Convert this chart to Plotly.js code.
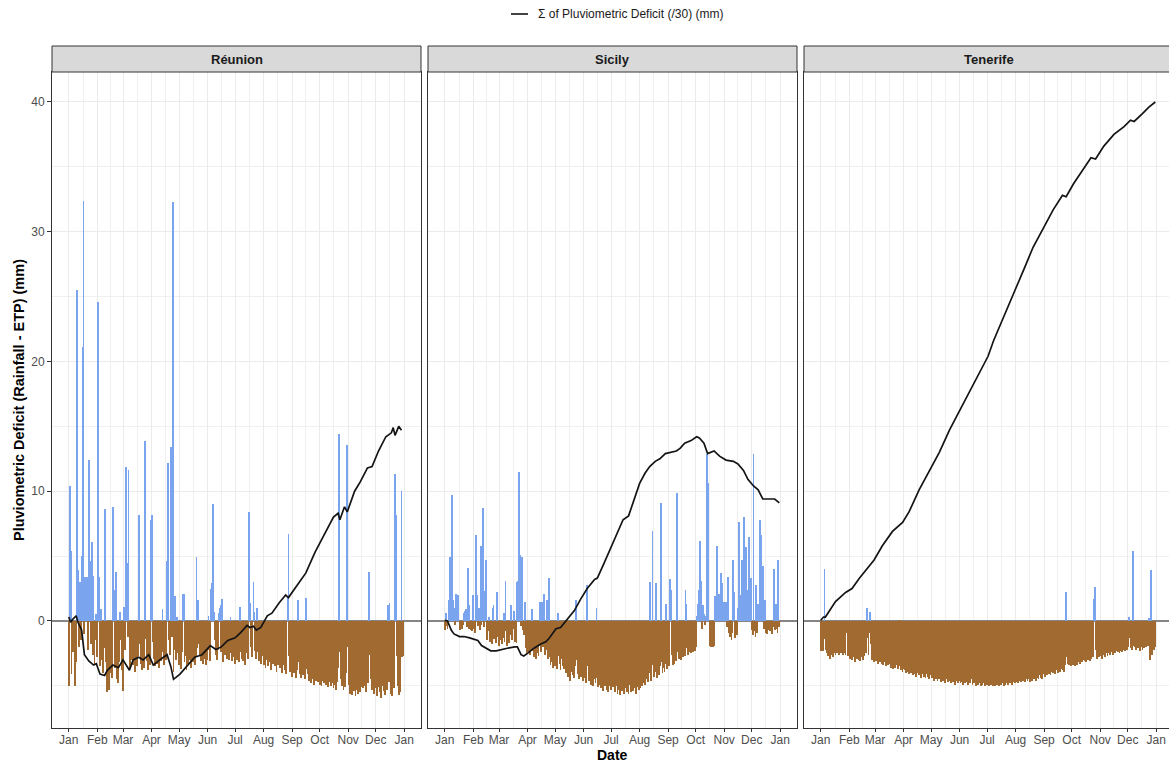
<!DOCTYPE html>
<html>
<head>
<meta charset="utf-8">
<script src="https://cdn.plot.ly/plotly-3.0.1.min.js"></script>
<style>
  html, body { margin: 0; padding: 0; overflow: hidden; background: #ffffff; }
</style>
</head>
<body>
<div id="chart" style="width:1173px;height:762px"></div>
<script>
// Sites shown as facets, left to right
const sites = ['Réunion', 'Sicily', 'Tenerife'];

// Day-of-year of each month start (axis ticks) and their labels
const monthStarts = [0, 31, 59, 90, 120, 151, 181, 212, 243, 273, 304, 334, 365];
const monthLabels = ['Jan', 'Feb', 'Mar', 'Apr', 'May', 'Jun', 'Jul', 'Aug', 'Sep', 'Oct', 'Nov', 'Dec', 'Jan'];

// Daily pluviometric deficit (rainfall - ETP), mm, one value per day from 1 January
const reunionDeficit = [
  -5.0, 10.4, 5.4, -4.1, -1.9, -2.4, -1.8, -5.0, -3.2, 25.5,
  3.9, -2.0, 3.0, -1.5, 5.0, 21.1, 32.4, -1.0, 3.4, 3.4,
  3.4, -2.2, 12.4, 4.6, -1.8, 6.1, -2.6, 3.5, -3.3, -1.5,
  0.5, -2.8, 24.6, 3.4, -3.5, 0.9, -3.0, -4.0, -2.1, 8.6,
  -3.2, -4.6, -5.5, -3.8, -5.3, -4.0, -2.8, -4.4, 8.8, 2.4,
  -3.6, 3.8, -4.5, -2.6, -4.8, -3.2, 0.7, -1.5, -3.8, -5.4,
  1.1, -2.2, 11.9, 4.5, -1.2, 11.6, -2.8, -3.6, -1.5, -3.0,
  -3.4, -2.5, -3.9, -2.0, -3.5, -2.7, 8.2, -1.8, -3.3, -2.4,
  -3.8, -2.9, -3.6, 13.9, -1.4, -3.1, -3.8, -2.3, -3.4, 7.8,
  4.3, 8.2, -1.6, -2.9, -3.5, -2.6, -3.3, -2.2, -3.6, -2.8,
  -3.1, -2.4, 0.9, -2.7, -3.4, -2.1, -3.0, 4.6, 12.2, -1.5,
  -2.6, 13.4, -1.2, 32.3, -3.9, -2.2, 1.9, -3.0, 0.3, -2.5,
  -3.4, -2.8, -3.7, -2.4, 2.1, 2.1, -3.2, -2.7, -3.8, -2.5,
  -3.3, -3.0, -2.4, -3.6, -2.9, -3.2, -2.6, -3.4, -2.8, 4.9,
  -2.1, 1.6, -1.8, -2.7, -3.1, -2.4, -3.3, -2.6, -2.9, -3.4,
  -2.5, -3.0, 0.4, -2.2, -3.1, 2.5, 2.9, 9.0, 0.7, -1.5,
  -2.6, -3.0, -2.2, 0.6, 1.0, 1.2, -2.4, 1.7, -3.2, -2.1,
  -2.6, -1.9, -2.9, -2.3, -3.0, -2.5, 0.3, -2.0, -3.1, -2.4,
  -2.8, -3.3, -2.2, -3.0, -2.6, -3.2, 1.1, -2.4, -2.9, -2.1,
  -3.1, -2.7, -3.4, -2.5, -1.6, -2.9, 8.4, 1.4, -2.0, -2.8,
  -1.7, 3.0, 0.7, -2.3, -2.9, 1.0, -2.4, -3.1, -2.6, -3.3,
  -2.7, -2.0, -3.4, -2.8, -3.6, -3.0, -2.4, -3.5, -2.9, -3.2,
  -3.8, -2.6, -3.3, -2.2, -3.5, -3.0, -3.9, -2.8, -3.4, -3.1,
  -3.6, -3.2, -4.0, -3.4, -2.9, -3.8, -4.1, -3.3, 1.8, 6.7,
  -2.7, -3.9, -3.5, -4.3, -3.7, -4.0, -3.4, -4.4, -3.8, 1.6,
  -3.2, -4.1, -3.6, -4.4, -3.9, -4.2, -3.5, -4.5, 1.8, -3.7,
  -4.1, -4.6, -3.9, -4.4, -4.8, -4.0, -4.5, -4.9, -4.2, -4.6,
  -3.8, -4.7, -4.3, -4.9, -4.4, -5.0, -4.1, -4.6, -4.8, -4.3,
  -4.9, -4.5, -5.1, -4.2, -4.7, -5.0, -4.4, -4.8, -5.2, -4.6,
  -4.9, -5.3, -4.7, -3.6, 14.4, -2.4, -4.5, -5.0, -4.6, -5.3,
  -4.8, -5.1, -4.0, 13.6, -2.0, -4.9, -5.6, -5.2, -5.7, -4.8,
  -5.4, -5.0, -5.8, -4.7, -5.3, -5.6, -4.9, -5.5, -5.1, -4.6,
  -5.2, -4.4, -5.0, -5.5, -4.2, -3.0, -4.8, 3.8, -2.6, -4.5,
  -5.3, -4.9, -5.6, -4.7, -5.2, -5.8, -4.4, -5.1, -5.5, -4.8,
  -5.9, -5.0, -4.6, -5.4, -5.7, -4.9, -5.3, 1.2, -4.7, 1.4,
  -5.6, -5.1, -5.8, -4.4, -5.2, 11.3, 8.2, -2.7, -5.0, -5.7,
  -4.6, -5.5, 10.0, -2.8, -2.7
];

const sicilyDeficit = [
  -0.7, 0.6, -0.4, -0.6, -0.3, 1.6, 4.9, 4.0, 9.7, 1.6,
  1.0, -0.3, 2.1, 2.0, 2.0, 1.6, -0.5, -0.7, -0.4, -0.6,
  -0.3, 0.6, 0.8, 0.9, -0.5, 4.1, -0.6, 1.2, -0.7, -0.5,
  -0.8, 2.0, -0.6, -0.9, 6.6, 2.0, -0.4, 1.0, -0.7, 5.8,
  -0.3, 1.6, 8.7, -0.5, 2.3, 4.7, -1.5, -0.8, 0.3, -1.6,
  -1.2, -1.8, 1.0, 1.2, -1.4, -0.9, -1.7, 2.2, -1.2, -1.9,
  -1.5, -1.0, -1.8, -1.3, 0.6, -1.6, 3.1, -0.8, -1.9, -1.4,
  -1.7, -1.1, 1.2, -1.5, -0.6, 0.8, -1.6, -1.2, -1.7, 3.0,
  3.1, 11.5, 5.1, -0.4, 4.9, -0.7, -1.1, 1.5, -2.1, -2.5,
  -1.9, -2.4, -2.0, -2.6, -2.2, 0.9, -2.3, -2.8, -2.1, -2.9,
  -2.5, -2.2, -2.7, -1.8, 1.5, -2.4, 1.5, -2.0, 2.1, -2.6,
  -2.2, 1.6, -2.9, 3.3, -2.8, -3.4, -2.5, -3.2, -3.6, -2.9,
  -3.5, -3.0, -3.7, 0.6, -2.7, -3.3, -3.8, -2.9, -3.5, -3.1,
  -3.7, -3.3, -4.0, -3.4, -4.3, -3.6, -4.6, -3.9, -3.3, -4.2,
  -3.7, -4.4, -3.5, 1.6, -3.0, -4.1, -4.5, -3.8, -4.3, -3.6,
  -4.6, -4.0, -4.4, -3.7, -4.8, 2.8, -3.5, -4.6, -4.2, -4.9,
  -4.3, -5.0, -4.5, -4.1, -4.8, 1.0, -4.4, -5.1, -4.6, -4.9,
  -5.2, -4.7, -5.4, -4.8, -5.0, -4.6, -5.3, -4.9, -5.5, -5.0,
  -4.7, -5.3, -4.4, -5.1, -4.8, -5.5, -4.2, -5.0, -5.6, -4.9,
  -5.3, -5.7, -4.6, -5.4, -5.0, -5.6, -5.2, -4.8, -5.5, -5.1,
  -5.6, -4.9, -5.3, -5.5, -5.0, -5.4, -4.8, -5.2, -5.6, -5.1,
  -4.7, -5.3, -4.9, -5.2, -4.6, -5.0, -4.8, -4.4, -4.9, -4.5,
  -4.2, -4.7, -4.0, 3.0, -4.6, -4.1, 6.9, -3.4, -4.3, -3.9,
  2.9, -4.4, -3.8, -4.2, -3.5, 9.1, -3.2, -4.0, -3.6, -3.9,
  -3.3, 1.3, -3.7, -3.1, -3.5, 3.2, 2.4, -2.6, -3.4, -3.0,
  -3.3, -2.8, -3.1, 9.9, -2.4, -2.9, -2.6, -3.0, -2.5, -2.8,
  -2.3, -2.7, 2.4, 1.3, -2.1, -2.6, -2.4, -2.0, -2.5, -2.2,
  -2.4, -1.9, -2.3, -2.0, 0.4, 1.3, 2.0, 2.4, 6.2, 3.1,
  -0.6, 1.2, 0.5, -0.3, 0.4, 12.9, 10.6, 0.6, -0.4, -1.9,
  -2.0, -1.8, -2.0, -1.9, 1.9, 0.6, 5.8, 1.0, 2.1, 0.4,
  1.2, 3.7, 2.9, 0.8, 1.5, 1.0, 1.5, -0.5, 3.4, -0.9,
  -1.2, -0.7, -1.5, -0.9, 4.7, 2.2, -1.3, -0.8, -1.1, 1.0,
  7.6, 1.5, 2.0, 4.7, 1.8, 4.5, 8.0, 3.0, 5.7, 2.4,
  1.6, 6.5, 2.2, 3.3, -0.7, -1.1, 12.9, -0.8, -1.2, 2.8,
  -0.9, 1.3, 0.8, 7.8, 6.6, 2.5, 4.2, -0.6, 1.6, -0.9,
  -0.5, -1.0, -0.7, -0.4, -0.8, -0.6, -1.0, -0.5, 4.0, -0.7,
  1.3, -0.6, -0.9, 4.7, -0.5
];

const tenerifeDeficit = [
  -2.3, -2.2, -2.3, -1.2, 4.0, -1.4, -2.2, -2.5, -2.7, -2.4,
  -2.9, -2.6, -2.3, -2.8, -2.5, -2.4, -2.6, -2.3, -2.5, -2.4,
  -2.6, -2.3, -2.5, -2.4, -2.6, -2.5, -2.3, -2.6, -0.9, -2.5,
  -2.7, -2.5, -2.9, -2.6, -3.0, -2.4, -2.8, -3.2, -2.6, -2.9,
  -2.5, -3.0, -2.7, -3.1, -2.8, -2.6, -3.0, -2.7, -2.0, -2.5,
  1.0, -1.3, -2.6, -0.9, 0.7, -1.8, -3.0, -2.6, -3.2, -2.8,
  -3.1, -2.9, -3.3, -3.0, -3.2, -2.9, -3.3, -3.1, -3.4, -3.0,
  -3.2, -3.5, -3.1, -3.4, -1.8, -3.3, -3.6, -3.2, -3.5, -3.7,
  -3.3, -3.6, -1.4, -3.4, -3.7, -3.5, -0.1, -3.8, -3.6, -3.9,
  -3.7, -0.2, -3.8, -4.0, -3.6, -3.9, -4.1, -3.7, -4.0, -3.8,
  -4.2, -3.9, -4.1, -3.8, -4.3, -4.0, -3.7, -4.2, -4.0, -4.4,
  -4.1, -3.8, -4.3, -4.0, -4.4, -4.1, -3.9, -4.3, -4.5, -4.2,
  -4.0, -4.4, -4.2, -4.6, -4.1, -4.5, -4.3, -4.6, -4.2, -4.5,
  -4.4, -4.7, -4.3, -4.6, -4.4, -4.8, -4.5, -4.3, -4.7, -4.5,
  -4.6, -4.4, -4.8, -4.5, -4.7, -4.4, -4.9, -4.6, -4.4, -4.8,
  -4.6, -4.5, -4.8, -4.7, -4.5, -4.9, -4.6, -4.8, -4.5, -4.7,
  -4.9, -4.6, -4.8, -4.7, -4.5, -4.9, -4.7, -4.8, -4.6, -5.0,
  -4.7, -4.9, -4.6, -4.8, -5.0, -4.7, -4.9, -4.8, -4.6, -5.0,
  -4.8, -4.9, -4.7, -5.0, -4.8, -4.9, -4.7, -5.0, -4.8, -4.9,
  -5.0, -4.7, -4.9, -4.8, -5.0, -4.7, -4.9, -4.6, -4.8, -5.0,
  -4.7, -4.9, -4.8, -4.6, -4.9, -4.7, -4.8, -4.6, -4.9, -4.7,
  -4.5, -4.8, -4.6, -4.7, -4.5, -4.8, -4.6, -4.4, -4.7, -4.5,
  -4.6, -4.3, -4.7, -4.5, -4.4, -4.6, -4.3, -4.5, -4.7, -4.4,
  -4.6, -4.3, -4.5, -4.2, -4.6, -4.4, -4.3, -4.5, -4.2, -4.4,
  -4.3, -4.5, -2.7, -4.1, -4.3, -4.0, -4.2, -3.9, -4.1, -3.8,
  -4.2, -3.9, -3.6, -4.0, -3.7, -4.1, -3.5, -3.8, -4.0, -3.6,
  -3.9, -3.7, -3.5, -3.8, -3.6, -3.9, -3.4, 2.2, -2.8, -3.3,
  -3.4, -3.1, -3.5, -3.2, -3.4, -3.0, -3.3, -3.5, -3.1, -3.4,
  -3.2, -3.0, -3.3, -2.9, -3.2, -3.0, -2.7, -3.1, -2.9, -3.2,
  -2.8, -3.0, -2.7, -3.1, -2.9, -2.6, -2.8, 1.7, 2.6, -2.2,
  -2.7, -2.9, -2.6, -2.8, -2.5, -2.7, -2.9, -2.4, -2.6, -2.8,
  -2.5, -2.3, -2.7, -2.5, -1.5, -2.6, -2.4, -2.2, -2.6, -1.2,
  -2.5, -2.3, -2.1, -2.4, -2.2, -2.5, -2.3, -2.0, -2.4, -2.2,
  -2.1, -2.3, -1.9, -2.2, -2.0, 0.3, -1.3, -2.1, -1.9, -2.2,
  5.4, -1.9, -2.0, -2.2, -1.8, -2.1, -1.9, -2.3, -2.0, -1.8,
  -2.2, -1.9, -2.1, -1.7, -2.0, -1.1, -1.9, 0.2, -3.0, 3.9,
  -2.6, -2.3, -1.9, -2.2, -2.0
];

// Running sum of the deficit (/30), read at the days where the curve bends
const reunionCumDay = [0, 2, 4, 8, 10, 14, 17, 22, 27, 30, 34, 39, 42, 48, 54, 59, 66, 70, 76, 81, 87, 92, 99, 107, 111, 114, 121, 130, 137, 145, 154, 160, 166, 173, 181, 187, 194, 197, 201, 204, 209, 216, 221, 229, 236, 239, 249, 258, 268, 279, 288, 293, 295, 300, 303, 311, 317, 325, 330, 337, 345, 351, 353, 355, 359, 362];
const reunionCumVal = [0.3, -0.1, 0.1, 0.4, -0.1, -0.7, -2.6, -3.1, -3.4, -3.3, -4.1, -4.2, -3.8, -3.4, -3.6, -3.0, -3.8, -3.0, -2.8, -3.0, -2.6, -3.4, -3.0, -2.6, -3.5, -4.5, -4.1, -3.4, -2.8, -2.6, -1.9, -2.2, -2.0, -1.5, -1.3, -0.9, -0.35, -0.5, -0.4, -0.7, -0.5, 0.4, 0.6, 1.4, 2.0, 1.8, 2.8, 3.7, 5.3, 6.8, 8.0, 8.3, 7.8, 8.8, 8.4, 10.0, 10.7, 11.8, 11.9, 13.1, 14.2, 14.5, 14.9, 14.3, 15.0, 14.7];

const sicilyCumDay = [0, 3, 7, 10, 16, 21, 27, 32, 36, 40, 45, 50, 56, 61, 68, 76, 79, 83, 86, 90, 97, 105, 110, 114, 121, 126, 132, 141, 148, 155, 163, 166, 173, 181, 189, 194, 200, 207, 212, 218, 223, 229, 234, 240, 245, 252, 256, 261, 268, 274, 277, 282, 286, 293, 299, 306, 314, 319, 325, 330, 336, 341, 346, 352, 359, 364];
const sicilyCumVal = [0.05, 0, -0.7, -1.0, -1.2, -1.2, -1.3, -1.4, -1.5, -1.9, -2.1, -2.3, -2.3, -2.2, -2.1, -2.0, -2.0, -2.6, -2.7, -2.5, -2.1, -1.75, -1.6, -1.3, -0.6, -0.5, 0.05, 0.8, 1.7, 2.5, 3.2, 3.3, 4.4, 5.7, 7.0, 7.8, 8.1, 9.6, 10.6, 11.4, 11.9, 12.3, 12.5, 12.9, 13.0, 13.1, 13.3, 13.7, 13.9, 14.2, 14.1, 13.7, 12.9, 13.1, 12.7, 12.4, 12.3, 12.1, 11.6, 10.9, 10.4, 10.1, 9.4, 9.4, 9.4, 9.1];

const tenerifeCumDay = [0, 3, 5, 16, 27, 34, 42, 49, 58, 67, 78, 89, 96, 107, 118, 129, 140, 151, 162, 173, 182, 188, 199, 210, 221, 231, 242, 253, 263, 267, 275, 286, 294, 299, 308, 319, 330, 337, 341, 350, 357, 364];
const tenerifeCumVal = [0.05, 0.3, 0.3, 1.5, 2.2, 2.5, 3.3, 3.9, 4.7, 5.8, 6.9, 7.6, 8.4, 10.1, 11.5, 13.0, 14.7, 16.2, 17.7, 19.1, 20.4, 21.6, 23.4, 25.2, 27.1, 28.8, 30.2, 31.7, 32.8, 32.7, 33.7, 34.9, 35.7, 35.6, 36.6, 37.5, 38.1, 38.6, 38.5, 39.1, 39.6, 40.0];

const legendLabel = 'Σ of Pluviometric Deficit (/30) (mm)';
const yTitle = 'Pluviometric Deficit (Rainfall - ETP) (mm)';
const xTitle = 'Date';

// ---- drawing ----
const FONT = 'Liberation Sans, Arial, Helvetica, sans-serif';
const W = 1173, H = 762;
const RAIN = '#7ba4ee', DRY = '#a06a31', INK = '#141414';

// panel boxes in pixels (left, right), shared top/bottom
const panelX = [[52, 421], [428, 797], [804, 1173]];
const panelTop = 72, panelBottom = 728, stripTop = 46;
const px = v => v / W;
const py = v => 1 - v / H;

const deficits = [reunionDeficit, sicilyDeficit, tenerifeDeficit];
const cumDays = [reunionCumDay, sicilyCumDay, tenerifeCumDay];
const cumVals = [reunionCumVal, sicilyCumVal, tenerifeCumVal];

const traces = [];
const lineTraces = [];
deficits.forEach((vals, k) => {
  const xa = k === 0 ? 'x' : 'x' + (k + 1);
  const ya = k === 0 ? 'y' : 'y' + (k + 1);
  const pos = { x: [], y: [] }, neg = { x: [], y: [] };
  vals.forEach((v, i) => {
    const t = v >= 0 ? pos : neg;
    t.x.push(i); t.y.push(v);
  });
  [[pos, RAIN], [neg, DRY]].forEach(([d, col]) => {
    traces.push({
      type: 'bar', x: d.x, y: d.y, width: 0.9,
      marker: { color: col, line: { width: 0 } },
      xaxis: xa, yaxis: ya, showlegend: false, hoverinfo: 'skip'
    });
  });
  lineTraces.push({
    type: 'scatter', mode: 'lines', x: cumDays[k], y: cumVals[k],
    line: { color: INK, width: 1.7 },
    xaxis: xa, yaxis: ya, showlegend: false, hoverinfo: 'skip'
  });
});

const midMonths = monthStarts.slice(1).map((m, i) => (m + monthStarts[i]) / 2);

function xAxis(k) {
  return {
    domain: [px(panelX[k][0]), px(panelX[k][1])],
    anchor: k === 0 ? 'y' : 'y' + (k + 1),
    range: [-18.25, 383.25],
    tickmode: 'array', tickvals: monthStarts, ticktext: monthLabels,
    ticks: 'outside', ticklen: 3, tickwidth: 1, tickcolor: '#333333',
    ticklabelstandoff: -2,
    tickfont: { family: FONT, size: 12, color: '#4d4d4d' },
    showline: true, mirror: true, linecolor: '#333333', linewidth: 1,
    showgrid: true, gridcolor: '#ebebeb', gridwidth: 1,
    minor: { tickmode: 'array', tickvals: midMonths, showgrid: true, gridcolor: '#f0f0f0', gridwidth: 0.7, ticks: '' },
    zeroline: false, fixedrange: true
  };
}
function yAxis(k) {
  return {
    domain: [py(panelBottom), py(panelTop)],
    anchor: k === 0 ? 'x' : 'x' + (k + 1),
    range: [-8.25, 42.31],
    tickmode: 'linear', tick0: 0, dtick: 10,
    ticks: k === 0 ? 'outside' : '', ticklen: 4, tickwidth: 1, tickcolor: '#333333',
    showticklabels: k === 0,
    tickfont: { family: FONT, size: 12, color: '#4d4d4d' },
    showline: true, mirror: true, linecolor: '#333333', linewidth: 1,
    showgrid: true, gridcolor: '#ebebeb', gridwidth: 1,
    minor: { tickmode: 'linear', tick0: 0, dtick: 5, showgrid: true, gridcolor: '#f0f0f0', gridwidth: 0.7, ticks: '' },
    zeroline: true, zerolinecolor: '#858585', zerolinewidth: 1.5, fixedrange: true
  };
}

const shapes = [];
const annotations = [];
sites.forEach((name, k) => {
  shapes.push({
    type: 'rect', xref: 'paper', yref: 'paper',
    x0: px(panelX[k][0]), x1: px(panelX[k][1]), y0: py(panelTop), y1: py(stripTop),
    fillcolor: '#d9d9d9', line: { color: '#333333', width: 1 }
  });
  annotations.push({
    xref: 'paper', yref: 'paper', x: px((panelX[k][0] + panelX[k][1]) / 2), y: py((panelTop + stripTop) / 2),
    text: '<b>' + name + '</b>', showarrow: false, xanchor: 'center', yanchor: 'middle',
    font: { family: FONT, size: 13, color: '#1a1a1a' }
  });
});

// legend key: short black segment followed by its label
shapes.push({
  type: 'line', xref: 'paper', yref: 'paper',
  x0: px(511), x1: px(528), y0: py(14), y1: py(14),
  line: { color: INK, width: 1.6 }
});
annotations.push({
  xref: 'paper', yref: 'paper', x: px(536), y: py(14),
  text: legendLabel, showarrow: false, xanchor: 'left', yanchor: 'middle',
  font: { family: FONT, size: 12, color: '#1a1a1a' }
});

// axis titles
annotations.push({
  xref: 'paper', yref: 'paper', x: px(19), y: py((panelTop + panelBottom) / 2),
  text: '<b>' + yTitle + '</b>', textangle: -90, showarrow: false,
  xanchor: 'center', yanchor: 'middle',
  font: { family: FONT, size: 14.5, color: '#000000' }
});
annotations.push({
  xref: 'paper', yref: 'paper', x: px((panelX[1][0] + panelX[1][1]) / 2), y: py(754.5),
  text: '<b>' + xTitle + '</b>', showarrow: false, borderpad: 0,
  xanchor: 'center', yanchor: 'middle',
  font: { family: FONT, size: 14, color: '#000000' }
});

const layout = {
  width: W, height: H,
  margin: { l: 0, r: 0, t: 0, b: 0, pad: 0 },
  paper_bgcolor: '#ffffff', plot_bgcolor: '#ffffff',
  font: { family: FONT, color: '#1a1a1a' },
  barmode: 'overlay', bargap: 0,
  showlegend: false, hovermode: false, dragmode: false,
  xaxis: xAxis(0), xaxis2: xAxis(1), xaxis3: xAxis(2),
  yaxis: yAxis(0), yaxis2: yAxis(1), yaxis3: yAxis(2),
  shapes: shapes, annotations: annotations
};

Plotly.newPlot('chart', traces.concat(lineTraces), layout, { displayModeBar: false });
</script>
</body>
</html>
